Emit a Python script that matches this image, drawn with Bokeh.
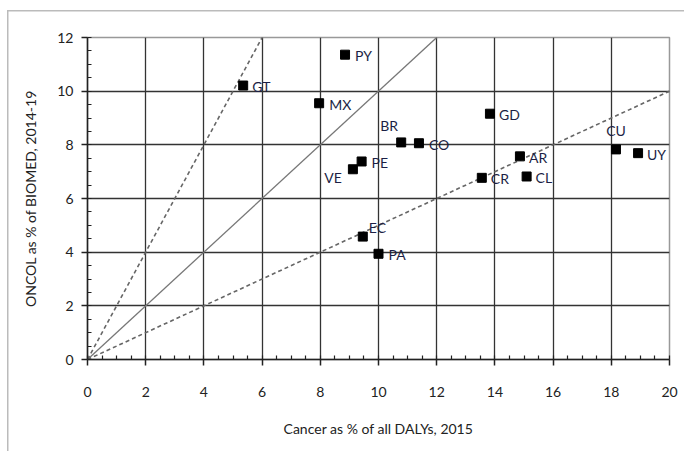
from bokeh.plotting import figure
from bokeh.models import ColumnDataSource, FixedTicker, Range1d
from bokeh.core.properties import value
from bokeh.embed import file_html
from bokeh.resources import INLINE

# ---- data ----
countries = ["GT", "PY", "MX", "BR", "CO", "GD", "PE", "VE", "CR", "AR", "CL", "CU", "UY", "EC", "PA"]
cancer_dalys = [5.35, 8.85, 7.96, 10.78, 11.39, 13.83, 9.42, 9.12, 13.55, 14.86, 15.09, 18.16, 18.92, 9.46, 10.00]
oncol_biomed = [10.21, 11.36, 9.55, 8.09, 8.06, 9.16, 7.38, 7.09, 6.77, 7.57, 6.82, 7.83, 7.69, 4.58, 3.94]

ref_slopes = [2.0, 1.0, 0.5]          # reference lines y = k * x
ref_styles = ["dashed", "solid", "dashed"]
x_ticks = [0, 2, 4, 6, 8, 10, 12, 14, 16, 18, 20]
y_ticks = [0, 2, 4, 6, 8, 10, 12]
x_title = "Cancer as % of all DALYs, 2015"
y_title = "ONCOL as % of BIOMED, 2014-19"

# label placement (screen px offsets from marker) and alignment
label_layout = {
    "GT": (9, 1, "left"), "PY": (10, 1, "left"), "MX": (10, 1, "left"),
    "BR": (-21, -17, "left"), "CO": (10, 1, "left"), "GD": (9, 1, "left"),
    "PE": (10, 1, "left"), "VE": (-11, 8, "right"), "CR": (9, 1, "left"),
    "AR": (9, 1, "left"), "CL": (9, 1, "left"), "CU": (0, -19, "center"),
    "UY": (9, 1, "left"), "EC": (6, -9, "left"), "PA": (10, 1, "left"),
}

FONT = "Lato"
DARK = "#222222"
FRAME = "#bbbbbb"

p = figure(width=684, height=451, output_backend="svg", toolbar_location=None,
           x_range=Range1d(0, 20), y_range=Range1d(0, 12),
           min_border_left=87, min_border_right=15, min_border_top=37, min_border_bottom=92)
p.background_fill_color = "white"
p.border_fill_color = None
p.outline_line_color = "#999999"
p.outline_line_width = 1.5
# light outer frame of the picture (left and top edges)
p.styles = {
    "background": (f"linear-gradient({FRAME},{FRAME}) 7px 10px / 1.5px 100% no-repeat, "
                   f"linear-gradient({FRAME},{FRAME}) 7px 10px / 100% 1.5px no-repeat, white"),
}

# axes
for ax, ticks in ((p.xaxis, x_ticks), (p.yaxis, y_ticks)):
    ax.ticker = FixedTicker(ticks=ticks,
                            minor_ticks=[t / 2 for t in range(0, 2 * ticks[-1] + 1)])
    ax.axis_line_color = DARK
    ax.axis_line_width = 1.5
    ax.major_tick_line_color = DARK
    ax.major_tick_line_width = 1.5
    ax.major_tick_out = 6
    ax.major_tick_in = 0
    ax.minor_tick_line_color = DARK
    ax.minor_tick_line_width = 1.2
    ax.minor_tick_in = 4
    ax.minor_tick_out = 0
    ax.major_label_text_font = FONT
    ax.major_label_text_font_size = "14px"
    ax.major_label_text_color = DARK
    ax.axis_label_text_font = FONT
    ax.axis_label_text_font_size = "14px"
    ax.axis_label_text_font_style = "normal"
    ax.axis_label_text_color = DARK

p.xaxis.axis_label = x_title
p.yaxis.axis_label = y_title
p.xaxis.major_label_standoff = 21
p.xaxis.axis_label_standoff = 20
p.yaxis.major_label_standoff = 8
p.yaxis.axis_label_standoff = 15

# grid
p.xgrid.ticker = FixedTicker(ticks=x_ticks[1:-1])
p.ygrid.ticker = FixedTicker(ticks=y_ticks[1:-1])
for g in (p.xgrid, p.ygrid):
    g.grid_line_color = "#333333"
    g.grid_line_width = 1.3

# reference lines
for k, st in zip(ref_slopes, ref_styles):
    x_end = min(20.0, 12.0 / k)
    if st == "solid":
        p.line([0, x_end], [0, k * x_end], line_color="#777777", line_width=1.3)
    else:
        p.line([0, x_end], [0, k * x_end], line_color="#666666", line_width=1.6,
               line_dash="4 3")

# points
src = ColumnDataSource(dict(
    x=cancer_dalys, y=oncol_biomed, label=countries,
    dx=[label_layout[c][0] for c in countries],
    dy=[label_layout[c][1] for c in countries],
    align=[label_layout[c][2] for c in countries],
))
p.scatter("x", "y", source=src, marker="square", size=9, fill_color="black",
          line_color="black")
p.text("x", "y", text="label", source=src, x_offset="dx", y_offset="dy",
       text_align="align", text_baseline="middle", text_font=value(FONT),
       text_font_size="14px", text_color="#1c1f45")

open("out.html", "w").write(file_html(p, INLINE))
